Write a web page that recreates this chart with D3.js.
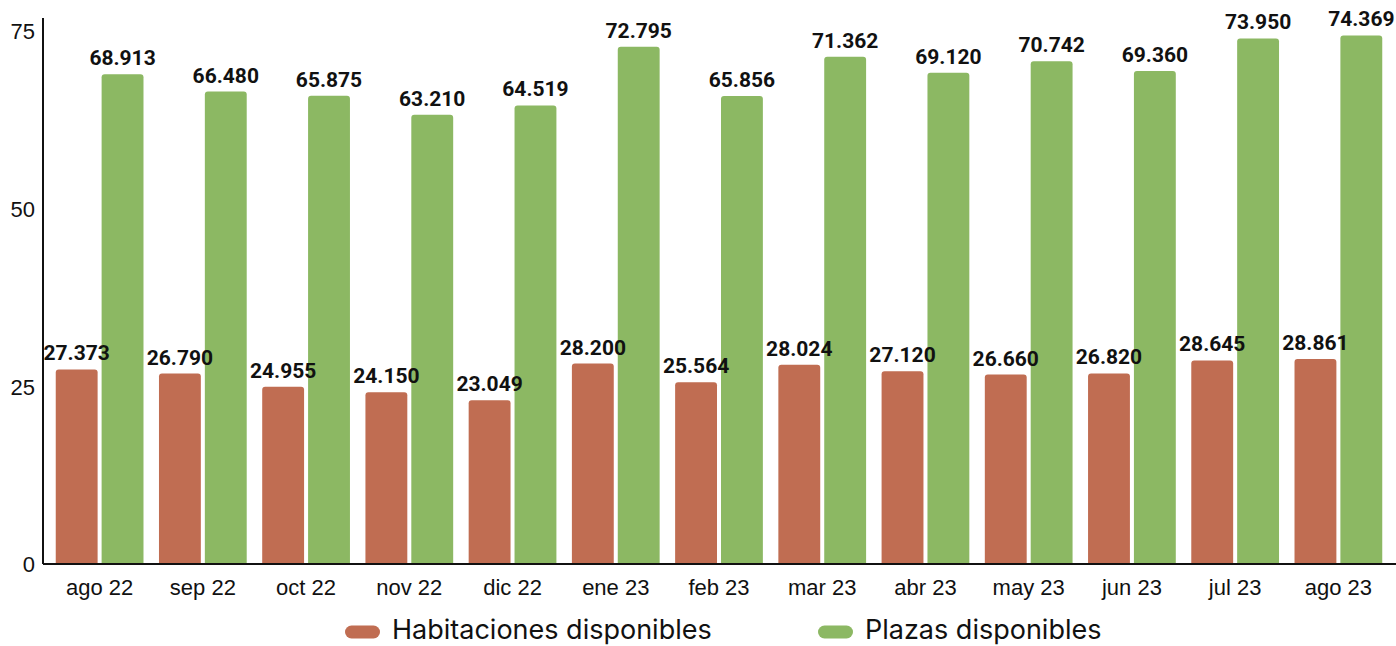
<!DOCTYPE html>
<meta charset="utf-8">
<title>Habitaciones y plazas disponibles</title>
<style>
body { margin: 0; background: #fff; }
svg { display: block; }
.axis text { font: 22px "Liberation Sans", Arial, sans-serif; fill: #111; }
.axis path, .axis line { stroke: #111; }
.val { font: bold 21px Roboto, sans-serif; fill: #111; text-anchor: middle; }
.legend text { font: 27px Inter, "Noto Sans", sans-serif; fill: #111; }
</style>
<script src="https://d3js.org/d3.v7.min.js"></script>
<body>
<script>

var width = 1396, height = 646;

// Data (thousands)
var months = ["ago 22", "sep 22", "oct 22", "nov 22", "dic 22", "ene 23", "feb 23",
              "mar 23", "abr 23", "may 23", "jun 23", "jul 23", "ago 23"];
var habitaciones = [27.373, 26.790, 24.955, 24.150, 23.049, 28.200, 25.564,
                    28.024, 27.120, 26.660, 26.820, 28.645, 28.861];
var plazas = [68.913, 66.480, 65.875, 63.210, 64.519, 72.795, 65.856,
              71.362, 69.120, 70.742, 69.360, 73.950, 74.369];
var seriesNames = ["Habitaciones disponibles", "Plazas disponibles"];
var yTicks = [0, 25, 50, 75];

var colors = ["#c06d52", "#8cb863"];

var svg = d3.select("body").append("svg")
    .attr("width", width)
    .attr("height", height);

var x = d3.scaleBand()
    .domain(months)
    .range([48, 1390])
    .paddingInner(0.15)
    .paddingOuter(0.075);

var y = d3.scaleLinear()
    .domain([0, 75])
    .range([564, 31]);

var fmt = d3.format(".3f");

var series = [habitaciones, plazas];
var gap = 4;
var bw = (x.bandwidth() - gap) / 2;

// rounded top bar
function barPath(x0, w, yTop, yBase, r) {
  r = Math.min(r, (yBase - yTop));
  return "M" + x0 + "," + yBase +
    "V" + (yTop + r) +
    "Q" + x0 + "," + yTop + " " + (x0 + r) + "," + yTop +
    "H" + (x0 + w - r) +
    "Q" + (x0 + w) + "," + yTop + " " + (x0 + w) + "," + (yTop + r) +
    "V" + yBase + "Z";
}

series.forEach(function(vals, si) {
  var g = svg.append("g");
  g.selectAll("path")
      .data(vals)
    .enter().append("path")
      .attr("fill", colors[si])
      .attr("d", function(d, i) {
        var x0 = x(months[i]) + si * (bw + gap);
        return barPath(x0, bw, y(d), y(0), 3);
      });
});

// value labels (drawn after all bars so they sit on top)
series.forEach(function(vals, si) {
  svg.append("g").selectAll("text")
      .data(vals)
    .enter().append("text")
      .attr("class", "val")
      .attr("x", function(d, i) { return x(months[i]) + si * (bw + gap) + bw / 2; })
      .attr("y", function(d) { return y(d) - 9; })
      .text(function(d) { return fmt(d); });
});

// axes
var yAxis = svg.append("g")
    .attr("class", "axis")
    .attr("transform", "translate(43,0)")
    .call(d3.axisLeft(y).tickValues(yTicks).tickSize(0).tickPadding(8));
yAxis.select(".domain").attr("d", "M0,18V564").attr("stroke-width", 2);
yAxis.selectAll("text").attr("dy", "0.35em");

var xAxis = svg.append("g")
    .attr("class", "axis")
    .attr("transform", "translate(0,564)")
    .call(d3.axisBottom(x).tickSize(0).tickPadding(15));
xAxis.select(".domain").attr("d", "M43,0H1396").attr("stroke-width", 2);

// legend (kept just inside the bottom edge)
var legendX = [345, 818];
var legend = svg.append("g").attr("class", "legend")
  .selectAll("g")
    .data(seriesNames)
  .enter().append("g")
    .attr("transform", function(d, i) { return "translate(" + legendX[i] + ",632)"; });

legend.append("rect")
    .attr("x", 0)
    .attr("y", -6.5)
    .attr("width", 35)
    .attr("height", 13)
    .attr("rx", 6.5)
    .attr("fill", function(d, i) { return colors[i]; });

legend.append("text")
    .attr("x", 47)
    .attr("y", 7)
    .text(function(d) { return d; });

</script>
